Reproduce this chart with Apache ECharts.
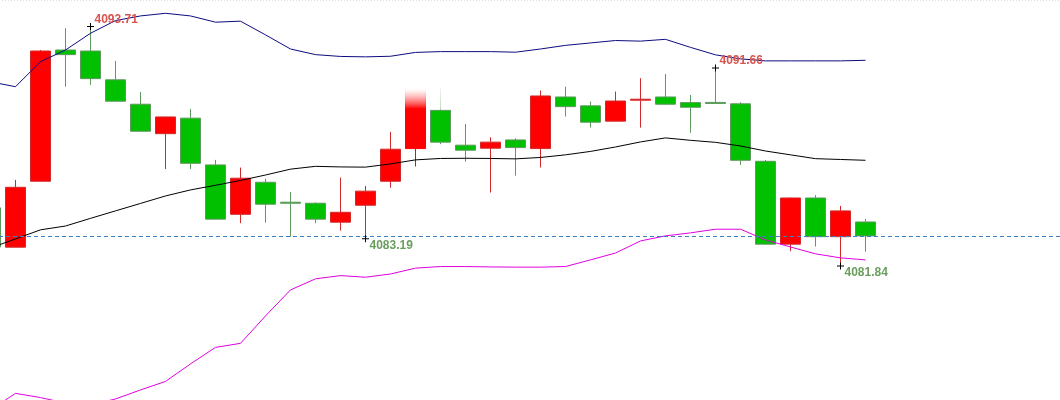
<!DOCTYPE html>
<html>
<head>
<meta charset="utf-8">
<style>
  html, body { margin: 0; padding: 0; background: #ffffff; overflow: hidden; width: 1060px; height: 400px; }
  #chart { position: absolute; left: -22px; top: 0; width: 1100px; height: 400px; }
</style>
<script src="https://cdn.jsdelivr.net/npm/echarts@6/dist/echarts.min.js"></script>
</head>
<body>
<div id="chart"></div>
<script>
// ---- data (first candle is partly off the left edge) ----
const slotCount = 44; // candle slots incl. empty space on the right
const categories = Array.from({ length: slotCount }, (_, i) => 'K' + (i + 1));

const opens = [4084.72, 4082.77, 4086.04, 4092.55, 4092.50, 4091.07, 4089.86, 4088.40, 4089.17, 4086.85,
  4084.40, 4085.99, 4085.00, 4084.95, 4084.01, 4084.85, 4086.04, 4087.66, 4089.56, 4087.83,
  4087.68, 4088.09, 4087.66, 4090.22, 4089.78, 4089.02, 4090.06, 4090.22, 4089.94, 4089.95,
  4089.88, 4087.03, 4082.92, 4085.21, 4083.29, 4084.02];
const closes = [4082.78, 4085.74, 4092.50, 4092.32, 4091.13, 4090.01, 4088.52, 4089.23, 4086.93, 4084.16,
  4086.19, 4084.90, 4084.95, 4084.16, 4084.50, 4085.55, 4087.63, 4090.67, 4087.98, 4087.58,
  4087.98, 4087.71, 4090.27, 4089.74, 4088.97, 4090.02, 4090.11, 4089.86, 4089.71, 4089.90,
  4087.08, 4082.92, 4085.21, 4083.29, 4084.57, 4083.33];
const lows = [4082.63, 4082.77, 4086.04, 4090.73, 4090.82, 4090.00, 4088.51, 4086.64, 4086.64, 4084.15,
  4083.96, 4083.99, 4083.29, 4083.96, 4083.59, 4083.19, 4085.72, 4086.77, 4087.88, 4087.01,
  4085.48, 4086.32, 4086.72, 4089.25, 4088.70, 4089.01, 4088.70, 4089.83, 4088.45, 4089.89,
  4086.85, 4082.91, 4082.57, 4082.80, 4081.84, 4082.55];
const highs = [4084.87, 4086.11, 4092.55, 4093.63, 4093.71, 4092.01, 4090.47, 4089.24, 4089.63, 4087.10,
  4086.72, 4086.16, 4085.50, 4084.99, 4086.22, 4085.81, 4088.49, 4090.67, 4090.67, 4088.88,
  4088.22, 4088.17, 4090.54, 4090.73, 4089.99, 4090.49, 4091.15, 4091.36, 4090.32, 4091.66,
  4089.96, 4087.10, 4085.23, 4085.35, 4084.82, 4084.17];

const upperBand = [4090.97, 4090.73, 4091.97, 4092.55, 4093.38, 4094.01, 4094.24, 4094.37, 4094.24, 4093.93,
  4093.98, 4093.30, 4092.60, 4092.32, 4092.23, 4092.21, 4092.24, 4092.43, 4092.47, 4092.47,
  4092.47, 4092.44, 4092.60, 4092.78, 4092.90, 4093.02, 4092.99, 4093.08, 4092.68, 4092.31,
  4092.11, 4092.01, 4092.01, 4092.01, 4092.01, 4092.04];
const middleBand = [4082.73, 4083.18, 4083.63, 4083.82, 4084.20, 4084.57, 4084.94, 4085.31, 4085.61, 4085.84,
  4086.08, 4086.35, 4086.64, 4086.78, 4086.75, 4086.74, 4086.90, 4087.10, 4087.17, 4087.18,
  4087.17, 4087.15, 4087.22, 4087.35, 4087.52, 4087.74, 4087.99, 4088.19, 4088.07, 4087.97,
  4087.79, 4087.54, 4087.35, 4087.16, 4087.12, 4087.08];
const lowerBand = [4074.70, 4075.52, 4075.31, 4075.04, 4074.95, 4075.24, 4075.69, 4076.11, 4076.98, 4077.80,
  4078.00, 4079.36, 4080.65, 4081.20, 4081.36, 4081.28, 4081.44, 4081.73, 4081.81, 4081.81,
  4081.79, 4081.78, 4081.78, 4081.81, 4082.14, 4082.48, 4083.08, 4083.33, 4083.48, 4083.66,
  4083.66, 4083.13, 4082.78, 4082.44, 4082.24, 4082.14];

// labelled extremes: [candle index, 'high' | 'low']
const extremeMarks = [[4, 'high'], [15, 'low'], [29, 'high'], [34, 'low']];

// ---- build options ----
const fadedTop = (solid) => new echarts.graphic.LinearGradient(0, 0, 0, 1, [
  { offset: 0, color: 'rgba(255,255,255,0)' },
  { offset: 0.08, color: 'rgba(255,190,190,0.6)' },
  { offset: 0.27, color: solid },
  { offset: 1, color: solid }
]);

const candleData = opens.map((o, i) => {
  const item = { value: [o, closes[i], lows[i], highs[i]] };
  if (i === 17) item.itemStyle = { color: fadedTop('#ff0000'), borderColor: fadedTop('#ff0000') };
  if (i === 18) item.itemStyle = { borderColor0: new echarts.graphic.LinearGradient(0, 0, 0, 1, [
    { offset: 0, color: 'rgba(200,220,200,0.3)' },
    { offset: 0.38, color: 'rgba(150,190,150,0.6)' },
    { offset: 0.40, color: '#5e995e' },
    { offset: 1, color: '#5e995e' }
  ]) };
  return item;
});

const crossPath = 'path://M0,3h7v1h-7z M3,0h1v7h-1z';
const markData = extremeMarks.map(([i, kind]) => {
  const isHigh = kind === 'high';
  const v = isHigh ? highs[i] : lows[i];
  return {
    coord: [i, v],
    value: v,
    label: {
      show: true,
      formatter: v.toFixed(2),
      position: isHigh ? [7.5, -3.5] : [7.5, 10.5],
      align: 'left',
      verticalAlign: 'middle',
      color: isHigh ? '#d9534f' : '#6a9e5e',
      fontSize: 12,
      fontWeight: 'bold',
      fontFamily: 'Liberation Sans, Arial, sans-serif'
    }
  };
});

const chart = echarts.init(document.getElementById('chart'), null, { renderer: 'canvas' });
chart.setOption({
  animation: false,
  backgroundColor: '#ffffff',
  grid: { left: 0, top: 0, right: 0, bottom: 0, containLabel: false },
  xAxis: {
    type: 'category',
    data: categories,
    boundaryGap: true,
    show: false
  },
  yAxis: {
    type: 'value',
    scale: true,
    min: 4075.19,
    max: 4095.03,
    show: false,
    splitLine: { show: false }
  },
  graphic: [{
    type: 'line',
    shape: { x1: 0, y1: 0.5, x2: 1100, y2: 0.5 },
    style: { stroke: '#dcdcdc', lineWidth: 1, lineDash: [1, 2] },
    silent: true
  }],
  series: [
    {
      type: 'candlestick',
      data: candleData,
      barWidth: 20,
      z: 2,
      itemStyle: {
        color: '#ff0000',
        color0: '#00c000',
        borderColor: '#d22a2a',
        borderColor0: '#5e995e',
        borderWidth: 1
      },
      markPoint: {
        symbol: crossPath,
        symbolSize: 7,
        itemStyle: { color: '#000000' },
        silent: true,
        data: markData
      },
      markLine: {
        silent: true,
        symbol: ['none', 'none'],
        label: { show: false },
        lineStyle: { color: '#3b7fc4', type: [4, 3], width: 1 },
        data: [{ yAxis: closes[closes.length - 1] }]
      }
    },
    {
      type: 'line', data: upperBand, showSymbol: false, z: 3,
      lineStyle: { color: '#0c0c80', width: 1 }
    },
    {
      type: 'line', data: middleBand, showSymbol: false, z: 3,
      lineStyle: { color: '#000000', width: 1 }
    },
    {
      type: 'line', data: lowerBand, showSymbol: false, z: 3,
      lineStyle: { color: '#e000e0', width: 1 }
    }
  ]
});
</script>
</body>
</html>
